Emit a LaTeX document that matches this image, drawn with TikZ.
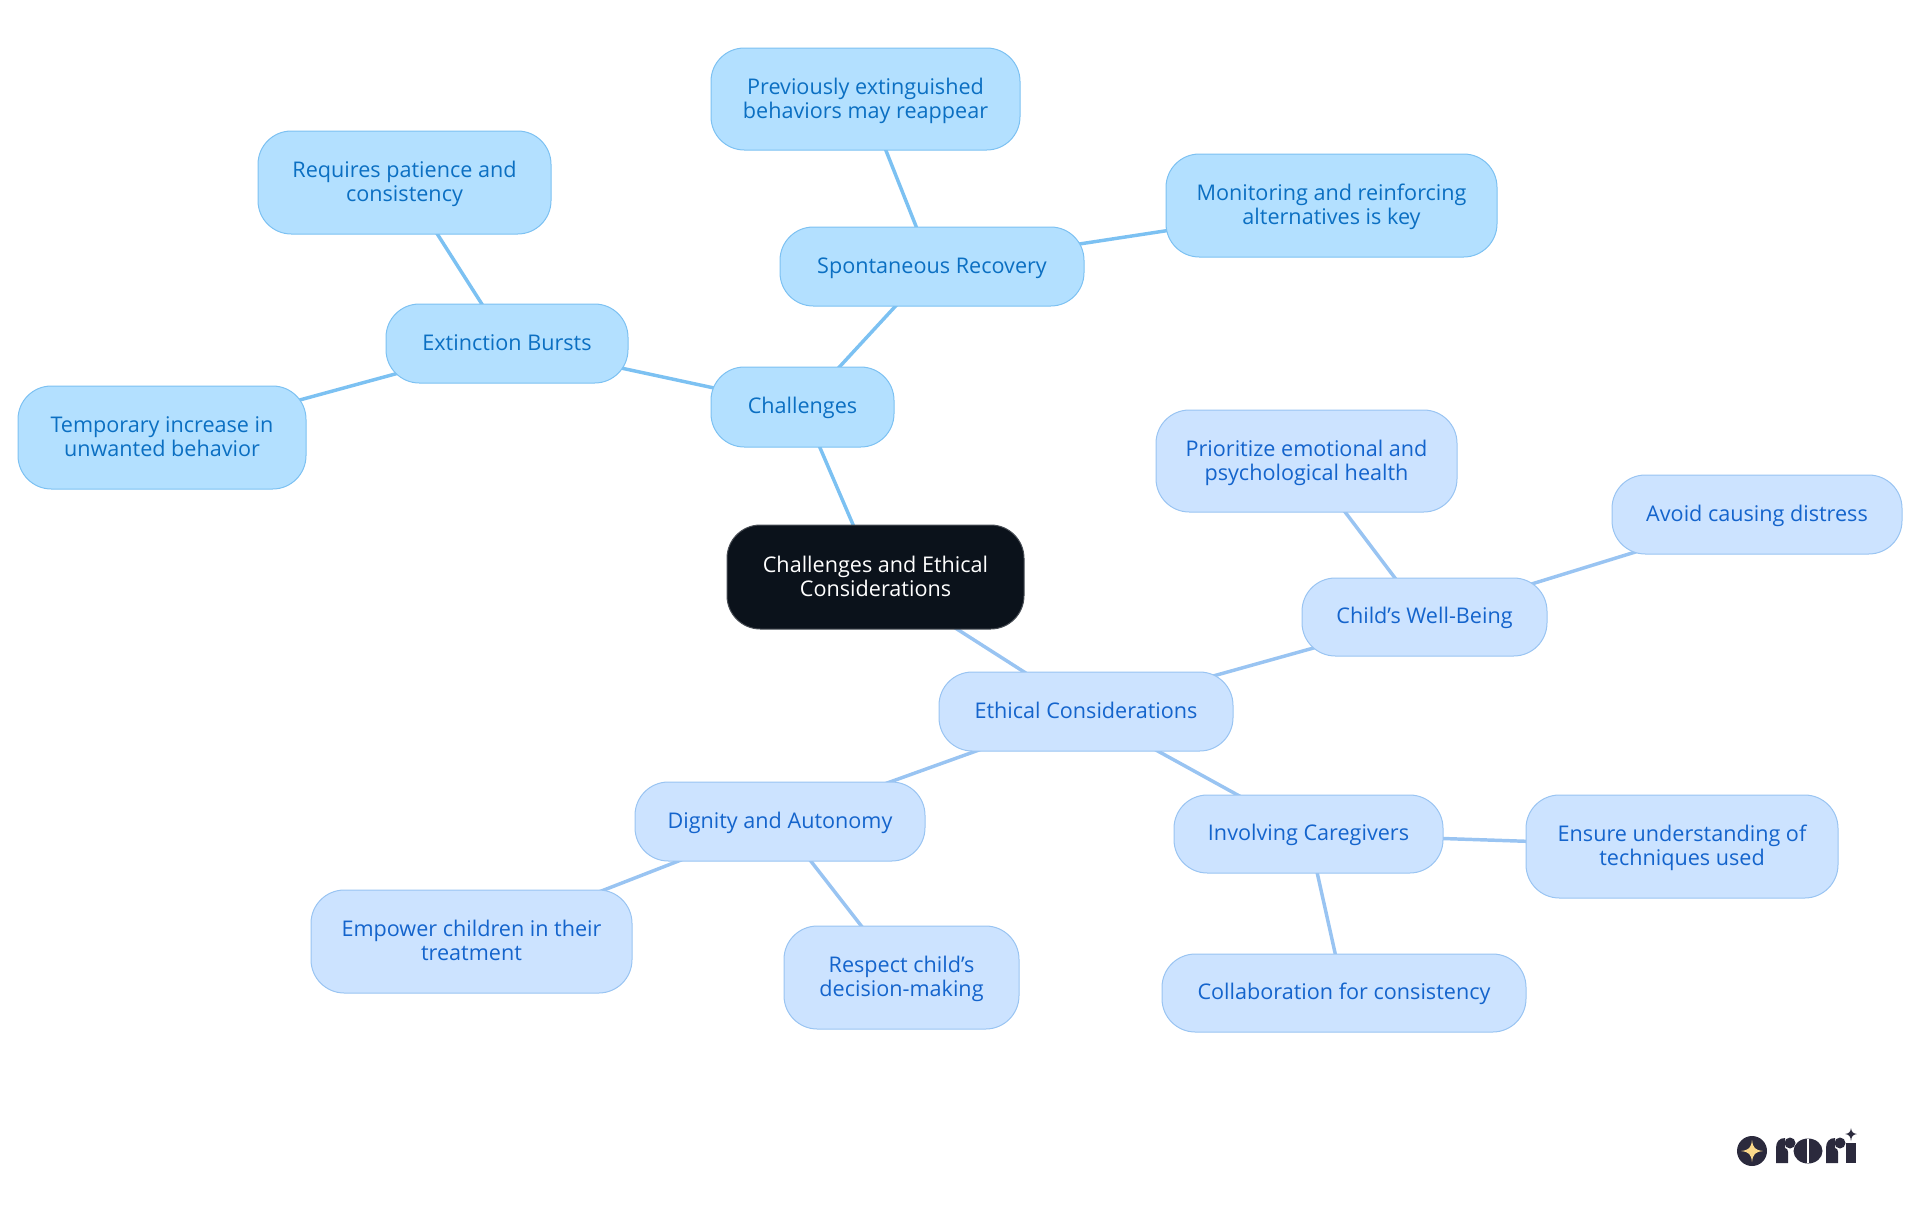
\documentclass[tikz,border=0pt]{standalone}
\usepackage{fontspec}
\setmainfont{Open Sans}
\usetikzlibrary{backgrounds}
\definecolor{upfill}{HTML}{B3E0FF}
\definecolor{updraw}{HTML}{7CC1F2}
\definecolor{uptext}{HTML}{0B6FC2}
\definecolor{lofill}{HTML}{CCE3FF}
\definecolor{lodraw}{HTML}{99C4F2}
\definecolor{lotext}{HTML}{1464CC}
\definecolor{rootfill}{HTML}{0B121B}
\definecolor{logodark}{HTML}{2B2A3D}
\definecolor{logostar}{HTML}{FBD98A}
\newcommand{\tstrut}{\rule[-4.1pt]{0pt}{18pt}}
\newcommand{\tl}{\rule{0pt}{15pt}}
\tikzset{
 x=0.75pt,y=-0.75pt,
 box/.style={rounded corners=25pt,inner sep=0pt,align=center,line width=0.75pt,font=\fontsize{16.2}{18}\selectfont,
   execute at begin node=\tstrut,execute at end node=\tstrut},
 upbox/.style={box,draw=updraw,fill=upfill,text=uptext},
 lobox/.style={box,draw=lodraw,fill=lofill,text=lotext},
 rootbox/.style={box,draw=rootfill!75!white,fill=rootfill,text=white},
 upline/.style={draw=updraw,line width=2.6pt},
 loline/.style={draw=lodraw,line width=2.6pt}
}
\newcommand{\bx}[8]{% name,style,x0,y0,x1,y1,text,prefix
 \node[#2,minimum width={(#5-#3)*0.75pt},minimum height={(#6-#4)*0.75pt}] (#1) at ({(#3+#5)/2},{(#4+#6)/2}) {#8#7};}
\begin{document}
\begin{tikzpicture}
\useasboundingbox (0,0) rectangle (1920,1215);
\bx{root}{rootbox}{727}{525}{1024}{629}{Challenges and Ethical\\Considerations}{\tl}
\bx{chal}{upbox}{711}{367}{894}{447}{Challenges}{}
\bx{spon}{upbox}{780}{227}{1084}{306}{Spontaneous Recovery}{}
\bx{prev}{upbox}{711}{48}{1020}{150}{Previously extinguished\\behaviors may reappear}{\tl}
\bx{moni}{upbox}{1166}{154}{1497}{257}{Monitoring and reinforcing\\alternatives is key}{\tl}
\bx{exti}{upbox}{386}{304}{628}{383}{Extinction Bursts}{}
\bx{requ}{upbox}{258}{131}{551}{234}{Requires patience and\\consistency}{\tl}
\bx{temp}{upbox}{18}{386}{306}{489}{Temporary increase in\\unwanted behavior}{\tl}
\bx{ethi}{lobox}{939}{672}{1233}{751}{Ethical Considerations}{}
\bx{chil}{lobox}{1302}{578}{1547}{656}{Child's Well-Being}{}
\bx{prio}{lobox}{1156}{410}{1457}{512}{Prioritize emotional and\\psychological health}{\tl}
\bx{avoi}{lobox}{1612}{475}{1902}{554}{Avoid causing distress}{}
\bx{dign}{lobox}{635}{782}{925}{861}{Dignity and Autonomy}{}
\bx{empo}{lobox}{311}{890}{632}{993}{Empower children in their\\treatment}{\tl}
\bx{resp}{lobox}{784}{926}{1019}{1029}{Respect child's\\decision-making}{\tl}
\bx{invo}{lobox}{1174}{795}{1443}{873}{Involving Caregivers}{}
\bx{ensu}{lobox}{1526}{795}{1838}{898}{Ensure understanding of\\techniques used}{\tl}
\bx{coll}{lobox}{1162}{954}{1526}{1032}{Collaboration for consistency}{}
\begin{scope}[on background layer]
\draw[upline] (root.center)--(chal.center);
\draw[upline] (chal.center)--(spon.center);
\draw[upline] (chal.center)--(exti.center);
\draw[upline] (spon.center)--(prev.center);
\draw[upline] (spon.center)--(moni.center);
\draw[upline] (exti.center)--(requ.center);
\draw[upline] (exti.center)--(temp.center);
\draw[loline] (root.center)--(ethi.center);
\draw[loline] (ethi.center)--(chil.center);
\draw[loline] (ethi.center)--(dign.center);
\draw[loline] (ethi.center)--(invo.center);
\draw[loline] (chil.center)--(prio.center);
\draw[loline] (chil.center)--(avoi.center);
\draw[loline] (dign.center)--(empo.center);
\draw[loline] (dign.center)--(resp.center);
\draw[loline] (invo.center)--(ensu.center);
\draw[loline] (invo.center)--(coll.center);
\end{scope}
% logo
\fill[logodark] (1752,1151) circle[radius=15];
\fill[logostar] (1752,1140) .. controls (1753,1148) and (1755,1150) .. (1763,1151) .. controls (1755,1152) and (1753,1154) .. (1752,1162) .. controls (1751,1154) and (1749,1152) .. (1741,1151) .. controls (1749,1150) and (1751,1148) .. (1752,1140) -- cycle;
\fill[logodark] (1776,1163) -- (1776,1148) .. controls (1776,1142) and (1779,1138) .. (1785,1138) -- (1785,1148) .. controls (1787,1148) and (1788,1150) .. (1788,1152) -- (1788,1163) -- cycle;
\fill[logodark] (1790,1143) circle[radius=5.5];
\fill[logodark] (1808,1151) ellipse[x radius=14.5,y radius=12.5];
\fill[white] (1807,1139) -- (1809,1139) -- (1809,1163) -- (1807,1163) -- cycle;
\fill[logodark] (1826,1163) -- (1826,1148) .. controls (1826,1142) and (1829,1138) .. (1835,1138) -- (1835,1148) .. controls (1837,1148) and (1838,1150) .. (1838,1152) -- (1838,1163) -- cycle;
\fill[logodark] (1840,1143) circle[radius=5.5];
\fill[logodark] (1846,1143) -- (1856,1143) -- (1856,1163) -- (1846,1163) -- cycle;
\fill[logodark] (1851,1128) .. controls (1851.5,1132) and (1853,1133.5) .. (1857,1134) .. controls (1853,1134.5) and (1851.5,1136) .. (1851,1141) .. controls (1850.5,1136) and (1849,1134.5) .. (1845,1134) .. controls (1849,1133.5) and (1850.5,1132) .. (1851,1128) -- cycle;
\end{tikzpicture}
\end{document}
